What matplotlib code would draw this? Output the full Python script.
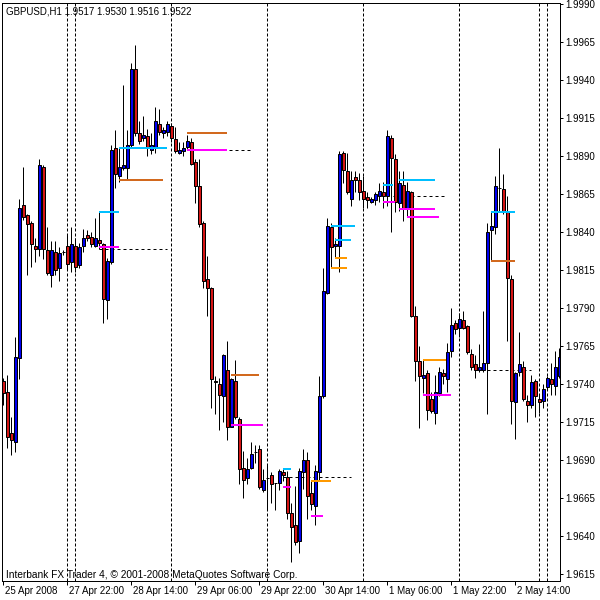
import matplotlib
matplotlib.use('Agg')
import matplotlib.pyplot as plt
import matplotlib.transforms as mtransforms

# ---------------- data (GBPUSD, H1) ----------------
opens = [1.9742, 1.9735, 1.9708, 1.9702, 1.9757, 1.9858, 1.9851, 1.9846, 1.9831, 1.9829,
         1.9883, 1.9828, 1.9812, 1.9827, 1.9816, 1.9827, 1.9831, 1.9820, 1.9831, 1.9818,
         1.9831, 1.9838, 1.9837, 1.9831, 1.9835, 1.9832, 1.9795, 1.9820, 1.9895, 1.9877,
         1.9882, 1.9882, 1.9897, 1.9947, 1.9905, 1.9902, 1.9903, 1.9894, 1.9895, 1.9911,
         1.9905, 1.9906, 1.9910, 1.9901, 1.9892, 1.9893, 1.9896, 1.9899, 1.9886, 1.9870,
         1.9846, 1.9809, 1.9803, 1.9742, 1.9740, 1.9732, 1.9749, 1.9712, 1.9742, 1.9717,
         1.9685, 1.9678, 1.9685, 1.9695, 1.9697, 1.9670, 1.9678, 1.9680, 1.9675, 1.9675,
         1.9682, 1.9679, 1.9655, 1.9647, 1.9637, 1.9682, 1.9690, 1.9668, 1.9660, 1.9682,
         1.9732, 1.9800, 1.9843, 1.9831, 1.9831, 1.9892, 1.9880, 1.9862, 1.9876, 1.9874,
         1.9867, 1.9863, 1.9860, 1.9861, 1.9864, 1.9866, 1.9864, 1.9902, 1.9888, 1.9859,
         1.9871, 1.9856, 1.9866, 1.9785, 1.9755, 1.9744, 1.9747, 1.9730, 1.9721, 1.9734,
         1.9747, 1.9743, 1.9762, 1.9780, 1.9777, 1.9782, 1.9778, 1.9760, 1.9753, 1.9749,
         1.9749, 1.9754, 1.9841, 1.9843, 1.9869, 1.9868, 1.9854, 1.9809, 1.9728, 1.9748,
         1.9751, 1.9729, 1.9726, 1.9742, 1.9730, 1.9729, 1.9738, 1.9743, 1.9739, 1.9745]
highs = [1.9744, 1.9746, 1.9718, 1.9771, 1.9862, 1.9883, 1.9852, 1.9847, 1.9836, 1.9888,
         1.9884, 1.9843, 1.9834, 1.9834, 1.9830, 1.9828, 1.9839, 1.9843, 1.9836, 1.9833,
         1.9842, 1.9841, 1.9840, 1.9849, 1.9853, 1.9833, 1.9823, 1.9897, 1.9907, 1.9895,
         1.9937, 1.9907, 1.9951, 1.9963, 1.9913, 1.9916, 1.9908, 1.9905, 1.9922, 1.9921,
         1.9909, 1.9913, 1.9912, 1.9909, 1.9899, 1.9899, 1.9904, 1.9902, 1.9888, 1.9888,
         1.9847, 1.9824, 1.9804, 1.9745, 1.9744, 1.9760, 1.9768, 1.9744, 1.9756, 1.9718,
         1.9696, 1.9691, 1.9702, 1.9700, 1.9700, 1.9684, 1.9687, 1.9682, 1.9675, 1.9684,
         1.9685, 1.9683, 1.9662, 1.9673, 1.9685, 1.9697, 1.9695, 1.9676, 1.9687, 1.9745,
         1.9816, 1.9849, 1.9846, 1.9836, 1.9893, 1.9893, 1.9892, 1.9880, 1.9880, 1.9879,
         1.9877, 1.9866, 1.9863, 1.9866, 1.9872, 1.9873, 1.9907, 1.9904, 1.9891, 1.9880,
         1.9880, 1.9873, 1.9867, 1.9791, 1.9765, 1.9756, 1.9749, 1.9735, 1.9746, 1.9751,
         1.9750, 1.9767, 1.9790, 1.9782, 1.9787, 1.9788, 1.9779, 1.9763, 1.9759, 1.9766,
         1.9788, 1.9846, 1.9853, 1.9877, 1.9895, 1.9878, 1.9864, 1.9812, 1.9748, 1.9774,
         1.9755, 1.9733, 1.9746, 1.9743, 1.9733, 1.9740, 1.9745, 1.9754, 1.9762, 1.9764]
lows = [1.9726, 1.9698, 1.9693, 1.9695, 1.9743, 1.9848, 1.9812, 1.9817, 1.9820, 1.9824,
        1.9822, 1.9812, 1.9804, 1.9812, 1.9808, 1.9825, 1.9815, 1.9814, 1.9814, 1.9816,
        1.9827, 1.9834, 1.9830, 1.9830, 1.9829, 1.9780, 1.9783, 1.9819, 1.9869, 1.9873,
        1.9881, 1.9875, 1.9895, 1.9903, 1.9898, 1.9900, 1.9890, 1.9891, 1.9892, 1.9904,
        1.9902, 1.9903, 1.9899, 1.9892, 1.9891, 1.9890, 1.9894, 1.9884, 1.9859, 1.9843,
        1.9803, 1.9785, 1.9724, 1.9720, 1.9710, 1.9715, 1.9703, 1.9712, 1.9717, 1.9674,
        1.9665, 1.9674, 1.9684, 1.9688, 1.9671, 1.9669, 1.9658, 1.9662, 1.9657, 1.9670,
        1.9676, 1.9651, 1.9623, 1.9634, 1.9629, 1.9671, 1.9651, 1.9657, 1.9647, 1.9677,
        1.9731, 1.9799, 1.9816, 1.9823, 1.9814, 1.9872, 1.9865, 1.9857, 1.9866, 1.9861,
        1.9856, 1.9856, 1.9859, 1.9858, 1.9860, 1.9856, 1.9857, 1.9840, 1.9853, 1.9854,
        1.9847, 1.9850, 1.9784, 1.9742, 1.9711, 1.9734, 1.9716, 1.9721, 1.9714, 1.9732,
        1.9740, 1.9735, 1.9758, 1.9773, 1.9771, 1.9776, 1.9760, 1.9749, 1.9744, 1.9748,
        1.9748, 1.9720, 1.9821, 1.9839, 1.9853, 1.9852, 1.9768, 1.9714, 1.9704, 1.9745,
        1.9729, 1.9715, 1.9724, 1.9718, 1.9721, 1.9724, 1.9737, 1.9733, 1.9733, 1.9744]
closes = [1.9734, 1.9705, 1.9703, 1.9758, 1.9856, 1.9850, 1.9845, 1.9832, 1.9829, 1.9884,
          1.9829, 1.9813, 1.9828, 1.9815, 1.9826, 1.9827, 1.9819, 1.9832, 1.9817, 1.9830,
          1.9836, 1.9836, 1.9832, 1.9836, 1.9833, 1.9796, 1.9821, 1.9894, 1.9878, 1.9883,
          1.9884, 1.9897, 1.9947, 1.9905, 1.9900, 1.9904, 1.9895, 1.9897, 1.9913, 1.9906,
          1.9907, 1.9911, 1.9902, 1.9893, 1.9894, 1.9895, 1.9900, 1.9885, 1.9870, 1.9845,
          1.9808, 1.9803, 1.9743, 1.9741, 1.9733, 1.9759, 1.9712, 1.9743, 1.9718, 1.9684,
          1.9677, 1.9684, 1.9694, 1.9695, 1.9672, 1.9677, 1.9678, 1.9674, 1.9675, 1.9683,
          1.9680, 1.9655, 1.9646, 1.9636, 1.9683, 1.9690, 1.9666, 1.9661, 1.9683, 1.9732,
          1.9801, 1.9844, 1.9830, 1.9832, 1.9891, 1.9881, 1.9866, 1.9874, 1.9874, 1.9866,
          1.9862, 1.9861, 1.9862, 1.9865, 1.9867, 1.9864, 1.9903, 1.9889, 1.9860, 1.9872,
          1.9855, 1.9867, 1.9785, 1.9755, 1.9745, 1.9746, 1.9723, 1.9722, 1.9735, 1.9748,
          1.9745, 1.9761, 1.9779, 1.9776, 1.9783, 1.9777, 1.9761, 1.9751, 1.9749, 1.9751,
          1.9754, 1.9840, 1.9844, 1.9870, 1.9869, 1.9853, 1.9810, 1.9729, 1.9747, 1.9753,
          1.9730, 1.9726, 1.9741, 1.9732, 1.9728, 1.9737, 1.9744, 1.9740, 1.9751, 1.9758]

time_labels = ["25 Apr 2008", "27 Apr 22:00", "28 Apr 14:00", "29 Apr 06:00",
               "29 Apr 22:00", "30 Apr 14:00", "1 May 06:00", "1 May 22:00", "2 May 14:00"]
time_label_bars = [0, 16, 32, 48, 64, 80, 96, 112, 128]
separator_bars = [16, 18, 42, 66, 90, 114, 134, 136]
price_ticks = [1.9615, 1.9640, 1.9665, 1.9690, 1.9715, 1.9740, 1.9765, 1.9790,
               1.9815, 1.9840, 1.9865, 1.9890, 1.9915, 1.9940, 1.9965, 1.9990]

# horizontal indicator levels: price, first bar, last bar, kind
level_prices = [1.9853, 1.9830, 1.9829, 1.9895, 1.9874, 1.9905, 1.9894, 1.9894,
                1.9746, 1.9713, 1.9684, 1.9672, 1.9679, 1.9676, 1.9653, 1.9844,
                1.9835, 1.9823, 1.9816, 1.9871, 1.9860, 1.9874, 1.9864, 1.9855,
                1.9850, 1.9756, 1.9733, 1.9749, 1.9853, 1.9821]
level_start = [24, 24, 24, 29, 29, 46, 46, 46, 57, 57, 70, 70, 70, 77, 77, 82,
               83, 83, 82, 95, 95, 99, 97.5, 99, 101, 105, 105, 118, 122, 122]
level_end = [29, 29, 41, 41, 40, 56, 56, 62, 64, 65, 72, 72, 87, 82, 80, 88,
             87, 86, 86, 97.5, 98, 108, 111, 108, 109, 110.7, 112, 132, 128, 128]
level_kind = ["cyan", "magenta", "dash", "cyan", "brown", "brown", "magenta", "dash",
              "brown", "magenta", "cyan", "magenta", "dash", "orange", "magenta", "cyan",
              "cyan", "orange", "orange", "cyan", "magenta", "cyan", "dash", "magenta",
              "magenta", "orange", "magenta", "dash", "cyan", "brown"]

header = "GBPUSD,H1 1.9517 1.9530 1.9516 1.9522"
footer = "Interbank FX Trader 4, \u00a9 2001-2008 MetaQuotes Software Corp."

# ---------------- styling ----------------
DPI = 100
W = H = 600
PX = 72.0 / DPI
FONT = ['Liberation Sans', 'DejaVu Sans']
plt.rcParams['font.family'] = FONT
kind_colors = {"cyan": "#00bfff", "magenta": "#ff00ff", "brown": "#d2691e",
               "orange": "#ff9900", "dash": "black"}
BULL = "#0000f0"
BEAR = "#d41515"

fig = plt.figure(figsize=(W / DPI, H / DPI), dpi=DPI, facecolor='white')
left, right, top, bottom = 2, 560, 3, 581
ax = fig.add_axes([left / W, 1 - bottom / H, (right - left) / W, (bottom - top) / H])
ax.set_facecolor('white')
# pixel x = 3.3 + 4*bar ; pixel y = 4 + (1.9990 - price) * 15200
ax.set_xlim((left - 3.3) / 4, (right - 3.3) / 4)
ax.set_ylim(1.9990 - (bottom - 4) / 15200, 1.9990 - (top - 4) / 15200)

for b in separator_bars:
    ax.axvline(b, color='black', lw=PX, ls=(0, (3, 2)), zorder=1)

n = len(opens)
bars = list(range(n))
ax.vlines(bars, lows, highs, color='black', lw=PX, zorder=3)
for i in bars:
    o, c = opens[i], closes[i]
    if c == o:
        ax.hlines(o, i - 0.4, i + 0.4, color='black', lw=PX, zorder=4)
    else:
        ax.bar(i, abs(c - o), bottom=min(o, c), width=0.8,
               color=BULL if c > o else BEAR, edgecolor='black', lw=PX, zorder=4)

for p, s, e, k in zip(level_prices, level_start, level_end, level_kind):
    if k == "dash":
        ax.hlines(p, s, e, color='black', lw=PX, linestyles=(0, (3, 3)), zorder=2)
    else:
        ax.hlines(p, s, e, color=kind_colors[k], lw=2 * PX, zorder=5)

for sp in ax.spines.values():
    sp.set_linewidth(PX)
    sp.set_color('black')

ax.yaxis.tick_right()
ax.set_yticks(price_ticks)
ax.set_yticklabels([f"{p:.4f}" for p in price_ticks])
ax.tick_params(axis='y', length=3 * PX, width=PX, pad=2 * PX, labelsize=7, colors='black')
ax.set_xticks(time_label_bars)
ax.set_xticklabels(time_labels)
ax.tick_params(axis='x', length=4 * PX, width=PX, pad=1 * PX, labelsize=7, colors='black')
offset = mtransforms.ScaledTranslation(2 / DPI, 0, fig.dpi_scale_trans)
for lab in ax.get_xticklabels():
    lab.set_horizontalalignment('left')
    lab.set_transform(lab.get_transform() + offset)

fig.text(6.5 / W, 1 - 11 / H, header, ha='left', va='center', fontsize=7, color='black')
fig.text(6.5 / W, 1 - 575 / H, footer, ha='left', va='center', fontsize=7.3, color='black')

fig.savefig('out.png', dpi=DPI, facecolor='white')
